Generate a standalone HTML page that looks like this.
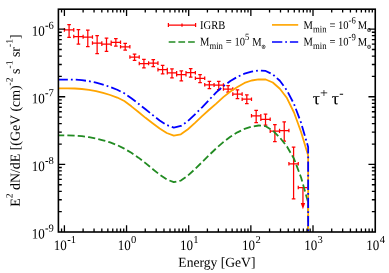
<!DOCTYPE html>
<html><head><meta charset="utf-8"><title>IGRB</title>
<style>html,body{margin:0;padding:0;background:#fff}svg{display:block;will-change:transform}</style></head>
<body>
<svg width="389" height="273" viewBox="0 0 389 273">
<rect width="389" height="273" fill="#fff"/>
<g stroke="#ff0000" stroke-width="1.25" fill="none">
<path d="M64.40,29.9H73.75M64.40,28.10V31.70M73.75,28.10V31.70M69.08,24.5V37.3M67.28,24.5H70.88M67.28,37.3H70.88M73.75,36.5H83.11M73.75,34.70V38.30M83.11,34.70V38.30M78.43,29.6V44.2M76.63,29.6H80.23M76.63,44.2H80.23M83.11,37H92.46M83.11,35.20V38.80M92.46,35.20V38.80M87.79,30V46.5M85.99,30H89.59M85.99,46.5H89.59M92.46,43H101.82M92.46,41.20V44.80M101.82,41.20V44.80M97.14,35.7V53.5M95.34,35.7H98.94M95.34,53.5H98.94M101.82,44.1H111.17M101.82,42.30V45.90M111.17,42.30V45.90M106.50,38.2V51.4M104.70,38.2H108.30M104.70,51.4H108.30M111.17,42.3H120.53M111.17,40.50V44.10M120.53,40.50V44.10M115.85,38.5V46.2M114.05,38.5H117.65M114.05,46.2H117.65M120.53,46.8H129.88M120.53,45.00V48.60M129.88,45.00V48.60M125.20,43.4V50M123.40,43.4H127.00M123.40,50H127.00M129.88,57H139.24M129.88,55.20V58.80M139.24,55.20V58.80M134.56,54.2V60.4M132.76,54.2H136.36M132.76,60.4H136.36M139.24,63.5H148.59M139.24,61.70V65.30M148.59,61.70V65.30M143.91,59.3V67.8M142.11,59.3H145.71M142.11,67.8H145.71M148.59,63.1H157.95M148.59,61.30V64.90M157.95,61.30V64.90M153.27,59.6V66.7M151.47,59.6H155.07M151.47,66.7H155.07M157.95,69.6H167.30M157.95,67.80V71.40M167.30,67.80V71.40M162.62,65.4V73.9M160.82,65.4H164.42M160.82,73.9H164.42M167.30,72.8H176.65M167.30,71.00V74.60M176.65,71.00V74.60M171.98,68.8V77.8M170.18,68.8H173.78M170.18,77.8H173.78M176.65,74.7H186.01M176.65,72.90V76.50M186.01,72.90V76.50M181.33,70.8V80.9M179.53,70.8H183.13M179.53,80.9H183.13M186.01,72.7H195.36M186.01,70.90V74.50M195.36,70.90V74.50M190.69,68.5V77M188.89,68.5H192.49M188.89,77H192.49M195.36,78.3H204.72M195.36,76.50V80.10M204.72,76.50V80.10M200.04,74.5V82.5M198.24,74.5H201.84M198.24,82.5H201.84M204.72,84.8H214.07M204.72,83.00V86.60M214.07,83.00V86.60M209.39,81.3V88.5M207.59,81.3H211.19M207.59,88.5H211.19M214.07,85.1H223.43M214.07,83.30V86.90M223.43,83.30V86.90M218.75,81.3V89.5M216.95,81.3H220.55M216.95,89.5H220.55M223.43,89H232.78M223.43,87.20V90.80M232.78,87.20V90.80M228.10,85.5V92.1M226.30,85.5H229.90M226.30,92.1H229.90M232.78,94.1H242.14M232.78,92.30V95.90M242.14,92.30V95.90M237.46,89.8V98.6M235.66,89.8H239.26M235.66,98.6H239.26M242.14,99.2H251.49M242.14,97.40V101.00M251.49,97.40V101.00M246.81,94.9V103.5M245.01,94.9H248.61M245.01,103.5H248.61M251.49,115.8H260.84M251.49,114.00V117.60M260.84,114.00V117.60M256.17,110.4V122.5M254.37,110.4H257.97M254.37,122.5H257.97M260.84,119.3H270.20M260.84,117.50V121.10M270.20,117.50V121.10M265.52,114V125M263.72,114H267.32M263.72,125H267.32M270.20,131.2H279.55M270.20,129.40V133.00M279.55,129.40V133.00M274.88,124.5V141.6M273.08,124.5H276.68M273.08,141.6H276.68M279.55,130.5H288.91M279.55,128.70V132.30M288.91,128.70V132.30M284.23,121.9V141.1M282.43,121.9H286.03M282.43,141.1H286.03M288.91,163.8H298.26M288.91,162.00V165.60M298.26,162.00V165.60M293.59,147.1V198.8M291.79,147.1H295.39M291.79,198.8H295.39M298.26,187.5H307.62M298.26,185.70V189.30M307.62,185.70V189.30M302.94,187.5V204"/>
</g>
<path d="M300.74,203 L305.14,203 L302.94,209.2 Z" fill="#ff0000"/>
<clipPath id="c"><rect x="58.4" y="9.2" width="316.85" height="222.8"/></clipPath>
<g clip-path="url(#c)" fill="none" stroke-linejoin="round">
<path d="M58.40,135.30 L60.66,135.30 L67.74,135.43 L74.81,135.67 L81.88,136.22 L88.95,137.17 L96.02,138.58 L103.09,140.30 L110.16,142.46 L117.23,145.18 L124.30,148.68 L131.37,152.82 L138.45,157.65 L145.52,163.13 L152.59,168.93 L159.66,174.63 L166.73,179.41 L173.80,182.17 L180.87,180.56 L187.94,175.61 L195.01,169.09 L202.08,162.10 L209.16,155.09 L216.23,148.33 L223.30,142.09 L230.37,136.75 L237.44,132.35 L244.51,128.88 L251.58,126.67 L258.65,125.49 L265.72,126.21 L272.79,130.52 L279.87,137.60 L286.94,146.45 L294.01,158.82 L301.08,177.50 L308.15,202.50 L308.15,232.0" stroke="#228b22" stroke-width="1.8" stroke-dasharray="7.3 3.1" stroke-dashoffset="1.45"/>
<path d="M58.40,88.30 L60.66,88.30 L67.74,88.36 L74.81,88.48 L81.88,89.01 L88.95,89.93 L96.02,91.18 L103.09,92.90 L110.16,95.01 L117.23,97.56 L124.30,101.03 L131.37,106.33 L138.45,112.03 L145.52,117.83 L152.59,123.33 L159.66,128.59 L166.73,132.99 L173.80,135.58 L180.87,134.27 L187.94,129.22 L195.01,122.90 L202.08,116.13 L209.16,109.75 L216.23,103.64 L223.30,97.10 L230.37,91.58 L237.44,86.97 L244.51,82.97 L251.58,80.51 L258.65,79.32 L265.72,79.52 L272.79,82.52 L279.87,88.70 L286.94,98.06 L294.01,112.52 L301.08,132.00 L308.15,155.40 L308.15,232.0" stroke="#ffa500" stroke-width="1.8"/>
<path d="M58.40,79.70 L60.66,79.70 L67.74,79.65 L74.81,79.60 L81.88,80.13 L88.95,81.22 L96.02,82.73 L103.09,84.59 L110.16,86.89 L117.23,89.73 L124.30,93.30 L131.37,98.25 L138.45,103.70 L145.52,109.23 L152.59,114.99 L159.66,120.49 L166.73,125.00 L173.80,127.58 L180.87,125.96 L187.94,121.00 L195.01,114.29 L202.08,107.30 L209.16,99.79 L216.23,92.31 L223.30,86.22 L230.37,81.02 L237.44,76.80 L244.51,73.62 L251.58,71.60 L258.65,70.49 L265.72,70.95 L272.79,74.34 L279.87,80.78 L286.94,90.46 L294.01,104.02 L301.08,122.80 L308.15,147.00 L308.15,232.0" stroke="#0000ff" stroke-width="1.8" stroke-dasharray="10.3 3.05 1.8 3.05" stroke-dashoffset="0.85"/>
</g>
<g fill="none">
<path d="M168.4,25.1H195.6M168.4,23.1V27.1M195.6,23.1V27.1M182,23.5V26.7" stroke="#ff0000" stroke-width="1.25"/>
<path d="M168.7,42H194.9" stroke="#228b22" stroke-width="1.65" stroke-dasharray="6.7 3"/>
<path d="M272,24.9H298.2" stroke="#ffa500" stroke-width="1.65"/>
<path d="M272,42H298.2" stroke="#0000ff" stroke-width="1.65" stroke-dasharray="10.3 2.9 1.8 2.9"/>
</g>
<g stroke="#000" fill="none">
<rect x="58.4" y="9.2" width="316.85" height="222.8" stroke-width="1.6"/>
<path d="M61.56,232.0v-3.4M61.56,9.2v3.4M64.40,232.0v-6.8M64.40,9.2v6.8M83.11,232.0v-3.4M83.11,9.2v3.4M94.05,232.0v-3.4M94.05,9.2v3.4M101.82,232.0v-3.4M101.82,9.2v3.4M107.84,232.0v-3.4M107.84,9.2v3.4M112.76,232.0v-3.4M112.76,9.2v3.4M116.92,232.0v-3.4M116.92,9.2v3.4M120.53,232.0v-3.4M120.53,9.2v3.4M123.71,232.0v-3.4M123.71,9.2v3.4M126.55,232.0v-6.8M126.55,9.2v6.8M145.26,232.0v-3.4M145.26,9.2v3.4M156.20,232.0v-3.4M156.20,9.2v3.4M163.97,232.0v-3.4M163.97,9.2v3.4M169.99,232.0v-3.4M169.99,9.2v3.4M174.91,232.0v-3.4M174.91,9.2v3.4M179.07,232.0v-3.4M179.07,9.2v3.4M182.68,232.0v-3.4M182.68,9.2v3.4M185.86,232.0v-3.4M185.86,9.2v3.4M188.70,232.0v-6.8M188.70,9.2v6.8M207.41,232.0v-3.4M207.41,9.2v3.4M218.35,232.0v-3.4M218.35,9.2v3.4M226.12,232.0v-3.4M226.12,9.2v3.4M232.14,232.0v-3.4M232.14,9.2v3.4M237.06,232.0v-3.4M237.06,9.2v3.4M241.22,232.0v-3.4M241.22,9.2v3.4M244.83,232.0v-3.4M244.83,9.2v3.4M248.01,232.0v-3.4M248.01,9.2v3.4M250.85,232.0v-6.8M250.85,9.2v6.8M269.56,232.0v-3.4M269.56,9.2v3.4M280.50,232.0v-3.4M280.50,9.2v3.4M288.27,232.0v-3.4M288.27,9.2v3.4M294.29,232.0v-3.4M294.29,9.2v3.4M299.21,232.0v-3.4M299.21,9.2v3.4M303.37,232.0v-3.4M303.37,9.2v3.4M306.98,232.0v-3.4M306.98,9.2v3.4M310.16,232.0v-3.4M310.16,9.2v3.4M313.00,232.0v-6.8M313.00,9.2v6.8M331.71,232.0v-3.4M331.71,9.2v3.4M342.65,232.0v-3.4M342.65,9.2v3.4M350.42,232.0v-3.4M350.42,9.2v3.4M356.44,232.0v-3.4M356.44,9.2v3.4M361.36,232.0v-3.4M361.36,9.2v3.4M365.52,232.0v-3.4M365.52,9.2v3.4M369.13,232.0v-3.4M369.13,9.2v3.4M372.31,232.0v-3.4M372.31,9.2v3.4M58.4,211.65h3.4M375.25,211.65h-3.4M58.4,199.75h3.4M375.25,199.75h-3.4M58.4,191.30h3.4M375.25,191.30h-3.4M58.4,184.75h3.4M375.25,184.75h-3.4M58.4,179.39h3.4M375.25,179.39h-3.4M58.4,174.86h3.4M375.25,174.86h-3.4M58.4,170.94h3.4M375.25,170.94h-3.4M58.4,167.48h3.4M375.25,167.48h-3.4M58.4,164.39h6.8M375.25,164.39h-6.8M58.4,144.03h3.4M375.25,144.03h-3.4M58.4,132.13h3.4M375.25,132.13h-3.4M58.4,123.68h3.4M375.25,123.68h-3.4M58.4,117.13h3.4M375.25,117.13h-3.4M58.4,111.77h3.4M375.25,111.77h-3.4M58.4,107.24h3.4M375.25,107.24h-3.4M58.4,103.32h3.4M375.25,103.32h-3.4M58.4,99.86h3.4M375.25,99.86h-3.4M58.4,96.77h6.8M375.25,96.77h-6.8M58.4,76.41h3.4M375.25,76.41h-3.4M58.4,64.51h3.4M375.25,64.51h-3.4M58.4,56.06h3.4M375.25,56.06h-3.4M58.4,49.51h3.4M375.25,49.51h-3.4M58.4,44.15h3.4M375.25,44.15h-3.4M58.4,39.62h3.4M375.25,39.62h-3.4M58.4,35.70h3.4M375.25,35.70h-3.4M58.4,32.24h3.4M375.25,32.24h-3.4M58.4,29.15h6.8M375.25,29.15h-6.8" stroke-width="1.3"/>
</g>
<g font-family="Liberation Serif, serif" fill="#000">
<text transform="translate(53.81,250.10) rotate(0.03) scale(0.9,1)" font-size="14.5" text-anchor="start">10</text>
<text transform="translate(67.16,243.10) rotate(0.03)" font-size="10.6" text-anchor="start">-1</text>
<text transform="translate(117.73,250.10) rotate(0.03) scale(0.9,1)" font-size="14.5" text-anchor="start">10</text>
<text transform="translate(131.08,243.10) rotate(0.03)" font-size="10.6" text-anchor="start">0</text>
<text transform="translate(179.88,250.10) rotate(0.03) scale(0.9,1)" font-size="14.5" text-anchor="start">10</text>
<text transform="translate(193.23,243.10) rotate(0.03)" font-size="10.6" text-anchor="start">1</text>
<text transform="translate(242.03,250.10) rotate(0.03) scale(0.9,1)" font-size="14.5" text-anchor="start">10</text>
<text transform="translate(255.38,243.10) rotate(0.03)" font-size="10.6" text-anchor="start">2</text>
<text transform="translate(304.18,250.10) rotate(0.03) scale(0.9,1)" font-size="14.5" text-anchor="start">10</text>
<text transform="translate(317.53,243.10) rotate(0.03)" font-size="10.6" text-anchor="start">3</text>
<text transform="translate(366.32,250.10) rotate(0.03) scale(0.9,1)" font-size="14.5" text-anchor="start">10</text>
<text transform="translate(379.68,243.10) rotate(0.03)" font-size="10.6" text-anchor="start">4</text>
<text transform="translate(31.72,238.61) rotate(0.03) scale(0.9,1)" font-size="14.5" text-anchor="start">10</text>
<text transform="translate(45.07,231.61) rotate(0.03)" font-size="10.6" text-anchor="start">-9</text>
<text transform="translate(31.72,170.99) rotate(0.03) scale(0.9,1)" font-size="14.5" text-anchor="start">10</text>
<text transform="translate(45.07,163.99) rotate(0.03)" font-size="10.6" text-anchor="start">-8</text>
<text transform="translate(31.72,103.37) rotate(0.03) scale(0.9,1)" font-size="14.5" text-anchor="start">10</text>
<text transform="translate(45.07,96.37) rotate(0.03)" font-size="10.6" text-anchor="start">-7</text>
<text transform="translate(31.72,35.75) rotate(0.03) scale(0.9,1)" font-size="14.5" text-anchor="start">10</text>
<text transform="translate(45.07,28.75) rotate(0.03)" font-size="10.6" text-anchor="start">-6</text>
<text transform="translate(216.90,266.70) rotate(0.03)" font-size="13.6" text-anchor="middle">Energy [GeV]</text>
<text transform="translate(19.80,120.60) rotate(-89.97)" font-size="13.9" text-anchor="middle">E<tspan font-size="9.6" dy="-7.3">2</tspan><tspan font-size="13.9" dy="7.3"> dN/dE [(GeV (cm)</tspan><tspan font-size="9.6" dy="-7.3">-2</tspan><tspan font-size="13.9" dy="7.3"> s</tspan><tspan font-size="9.6" dy="-7.3">-1</tspan><tspan font-size="13.9" dy="7.3"> sr</tspan><tspan font-size="9.6" dy="-7.3">-1</tspan><tspan font-size="13.9" dy="7.3">]</tspan></text>
<text transform="translate(312.40,104.30) rotate(0.03) scale(1.08,1)" font-size="17.5" text-anchor="start">τ<tspan font-size="13" dy="-7.1">+</tspan><tspan font-size="17.5" dy="7.1" dx="-1"> τ</tspan><tspan font-size="12" dy="-7.3">-</tspan></text>
<text transform="translate(200.00,28.90) rotate(0.03) scale(0.895,1)" font-size="11.8" text-anchor="start">IGRB</text>
<text transform="translate(200.00,45.60) rotate(0.03) scale(0.895,1)" font-size="11.8" text-anchor="start">M<tspan font-size="9.7" dy="3.4">min</tspan><tspan font-size="11.8" dy="-3.4" dx="0.4"> = 10</tspan><tspan font-size="9.7" dy="-5.5">5</tspan><tspan font-size="11.8" dy="5.5" dx="0.4"> M</tspan><tspan font-family="DejaVu Sans, sans-serif" font-weight="bold" font-size="6.2" dy="3.0" dx="-0.5">⊙</tspan></text>
<text transform="translate(303.60,28.90) rotate(0.03) scale(0.895,1)" font-size="11.8" text-anchor="start">M<tspan font-size="9.7" dy="3.4">min</tspan><tspan font-size="11.8" dy="-3.4" dx="0.4"> = 10</tspan><tspan font-size="9.7" dy="-5.5">-6</tspan><tspan font-size="11.8" dy="5.5" dx="-0.8"> M</tspan><tspan font-family="DejaVu Sans, sans-serif" font-weight="bold" font-size="6.2" dy="3.0" dx="-0.5">⊙</tspan></text>
<text transform="translate(303.60,45.60) rotate(0.03) scale(0.895,1)" font-size="11.8" text-anchor="start">M<tspan font-size="9.7" dy="3.4">min</tspan><tspan font-size="11.8" dy="-3.4" dx="0.4"> = 10</tspan><tspan font-size="9.7" dy="-5.5">-9</tspan><tspan font-size="11.8" dy="5.5" dx="-0.8"> M</tspan><tspan font-family="DejaVu Sans, sans-serif" font-weight="bold" font-size="6.2" dy="3.0" dx="-0.5">⊙</tspan></text>
</g>
</svg>
</body></html>
